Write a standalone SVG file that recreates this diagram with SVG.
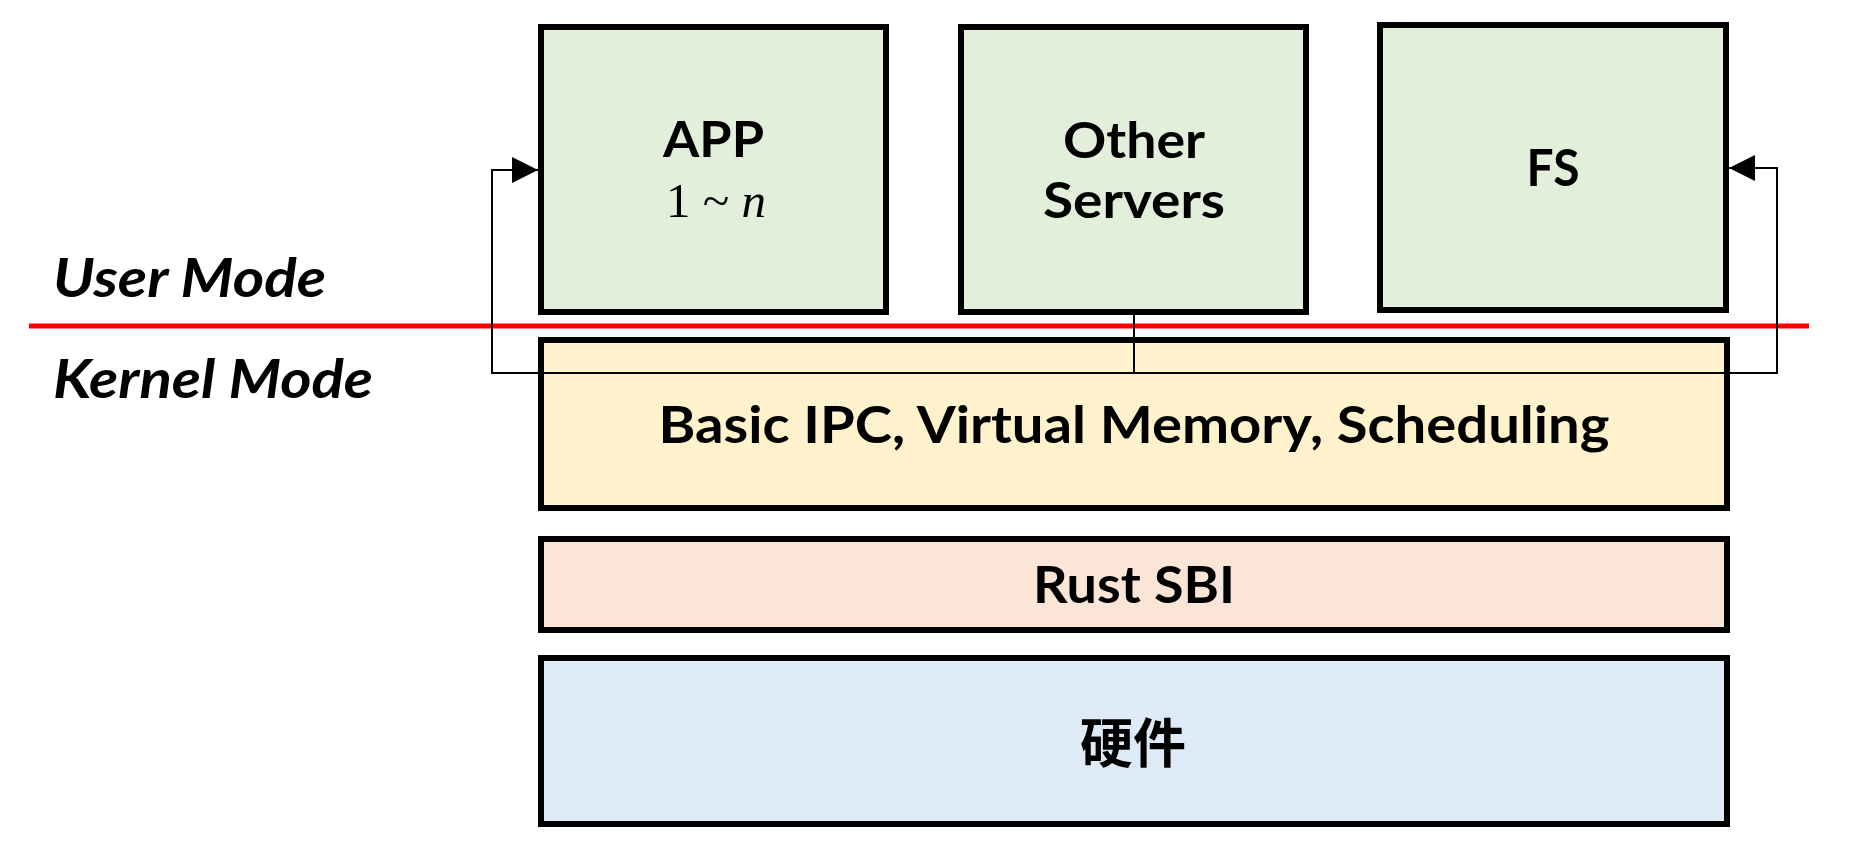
<svg xmlns="http://www.w3.org/2000/svg" width="1872" height="853" viewBox="0 0 1872 853">
  <style>
    .box { stroke: #000; stroke-width: 6; }
    .user { fill: #E2EFDA; }
    .kern { fill: #FFF2CC; }
    .sbi { fill: #FBE5D6; }
    .hw { fill: #DEEBF7; }
    .lbl { font-family: Lato, "Open Sans", sans-serif; font-weight: bold; fill: #000; text-anchor: middle; }
    .mode { font-family: Lato, "Open Sans", sans-serif; font-weight: bold; font-style: italic; fill: #000; }
    .math { font-family: "Liberation Serif", serif; fill: #000; text-anchor: middle; }
    .cjk { font-family: "Noto Sans CJK SC", sans-serif; font-weight: bold; fill: #000; text-anchor: middle; }
    .conn { fill: none; stroke: #000; stroke-width: 2; }
  </style>
  <defs>
    <marker id="arrow" viewBox="0 0 26 26" refX="26" refY="13" markerWidth="26" markerHeight="26" markerUnits="userSpaceOnUse" orient="auto">
      <path d="M0,0 L26,13 L0,26 z" fill="#000"/>
    </marker>
  </defs>
  <rect width="1872" height="853" fill="#fff"/>

  <g id="app">
    <rect class="box user" x="541" y="27" width="345" height="285"/>
    <text class="lbl" x="713.5" y="157" font-size="50" textLength="101" lengthAdjust="spacingAndGlyphs">APP</text>
    <text class="math" x="716" y="217" font-size="49">1 ~ <tspan font-style="italic">n</tspan></text>
  </g>

  <g id="other-servers">
    <rect class="box user" x="961" y="27" width="345" height="285"/>
    <text class="lbl" x="1134" y="158" font-size="49" textLength="142" lengthAdjust="spacingAndGlyphs">Other</text>
    <text class="lbl" x="1134" y="218" font-size="49" textLength="182" lengthAdjust="spacingAndGlyphs">Servers</text>
  </g>

  <g id="fs">
    <rect class="box user" x="1380" y="25" width="346" height="285"/>
    <text class="lbl" x="1553" y="186" font-size="52" textLength="53" lengthAdjust="spacingAndGlyphs">FS</text>
  </g>

  <g id="kernel">
    <rect class="box kern" x="541" y="340" width="1186" height="168"/>
    <text class="lbl" x="1134" y="443" font-size="52" textLength="951" lengthAdjust="spacingAndGlyphs">Basic IPC, Virtual Memory, Scheduling</text>
  </g>

  <g id="rust-sbi">
    <rect class="box sbi" x="541" y="539" width="1186" height="91"/>
    <text class="lbl" x="1134" y="603" font-size="52" textLength="202" lengthAdjust="spacingAndGlyphs">Rust SBI</text>
  </g>

  <g id="hardware">
    <rect class="box hw" x="541" y="658" width="1186" height="166"/>
    <text class="cjk" x="1133" y="763" font-size="53">硬件</text>
  </g>

  <g id="mode-labels">
    <text class="mode" x="53" y="297" font-size="53" textLength="273" lengthAdjust="spacingAndGlyphs">User Mode</text>
    <text class="mode" x="53" y="398" font-size="53" textLength="320" lengthAdjust="spacingAndGlyphs">Kernel Mode</text>
    <line x1="29" y1="326" x2="1809" y2="326" stroke="#FF0000" stroke-width="5"/>
  </g>

  <g id="connectors">
    <path class="conn" d="M1134,315 V373 H492 V170 H538" marker-end="url(#arrow)"/>
    <path class="conn" d="M1134,373 H1777 V168 H1729" marker-end="url(#arrow)"/>
  </g>
</svg>
